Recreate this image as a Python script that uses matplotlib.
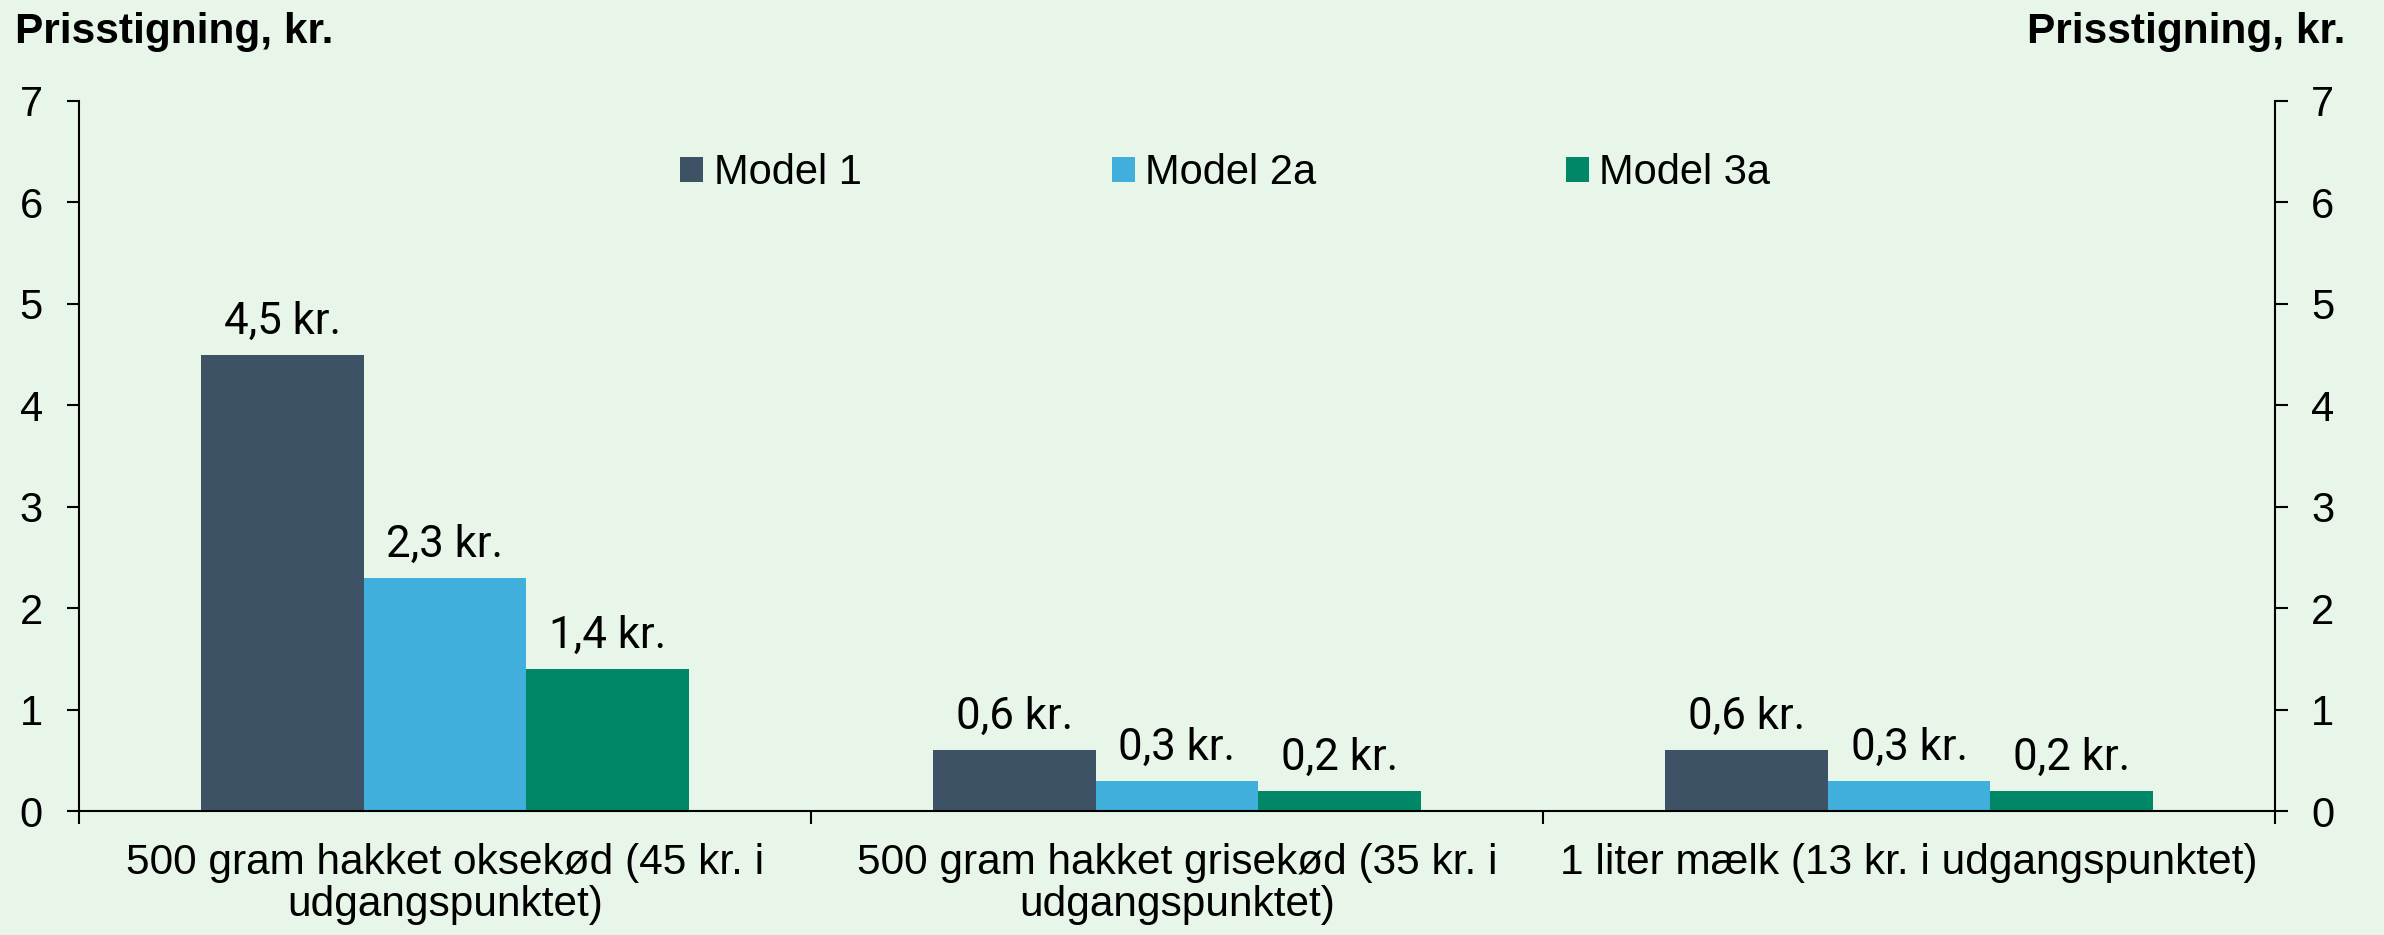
import matplotlib
matplotlib.use("Agg")
import matplotlib.pyplot as plt
from matplotlib.patches import Patch
import numpy as np

categories = ["500 gram hakket oksekød (45 kr. i\nudgangspunktet)",
              "500 gram hakket grisekød (35 kr. i\nudgangspunktet)",
              "1 liter mælk (13 kr. i udgangspunktet)"]
series_names = ["Model 1", "Model 2a", "Model 3a"]
model1 = [4.5, 0.6, 0.6]
model2a = [2.3, 0.3, 0.3]
model3a = [1.4, 0.2, 0.2]
yticks = [0, 1, 2, 3, 4, 5, 6, 7]
axis_title = "Prisstigning, kr."

colors = ["#3d5365", "#40afdb", "#008767"]
bg = "#e8f6ea"

plt.rcParams['font.family'] = ['Liberation Sans', 'DejaVu Sans']

fig = plt.figure(figsize=(23.84, 9.35), dpi=100, facecolor=bg)
ax = fig.add_axes([0.0331, 0.1326, 0.9543 - 0.0331, 0.892 - 0.1326])
ax.set_facecolor(bg)

x = np.arange(len(categories))
w = 0.222
for i, (vals, name, c) in enumerate(zip([model1, model2a, model3a], series_names, colors)):
    pos = x + (i - 1) * w
    ax.bar(pos, vals, width=w, color=c, label=name, zorder=2)
    for px, v in zip(pos, vals):
        ax.annotate(f"{v:.1f}".replace(".", ",") + " kr.", (px, v),
                    xytext=(0, 15), textcoords="offset points",
                    ha="center", va="baseline", fontsize=31.5,
                    family=['Roboto', 'Liberation Sans'], color="black")

ax.set_xlim(-0.5, 2.5)
ax.set_ylim(0, 7)
ax.set_yticks(yticks)
ax.set_yticklabels([str(t) for t in yticks])

# category labels at centers, tick marks at boundaries
ax.set_xticks(x)
ax.set_xticklabels(categories, fontsize=30.5, linespacing=1.08)
ax.set_xticks([-0.5, 0.5, 1.5, 2.5], minor=True)
ax.tick_params(axis="x", which="major", length=0, pad=23)
ax.tick_params(axis="x", which="minor", length=9, width=1.5, direction="out")

ax.tick_params(axis="y", which="major", labelsize=30, length=9, width=1.5,
               direction="out", pad=17, left=True, right=True,
               labelleft=True, labelright=True)

for s in ["left", "right", "bottom"]:
    ax.spines[s].set_linewidth(1.5)
    ax.spines[s].set_color("black")
ax.spines["top"].set_visible(False)

handles = [Patch(facecolor=c, edgecolor="none") for c in colors]
leg = fig.legend(handles, series_names, loc="center", bbox_to_anchor=(0.514, 0.815),
                 ncol=3, frameon=False, fontsize=30, handlelength=0.55,
                 handleheight=0.55, handletextpad=0.25, columnspacing=6.0)

fig.text(15 / 2384, 1 - 43 / 935, axis_title, fontsize=30.5, fontweight="bold",
         ha="left", va="baseline")
fig.text(2345 / 2384, 1 - 43 / 935, axis_title, fontsize=30.5, fontweight="bold",
         ha="right", va="baseline")

fig.savefig("out.png", dpi=100, facecolor=bg)
